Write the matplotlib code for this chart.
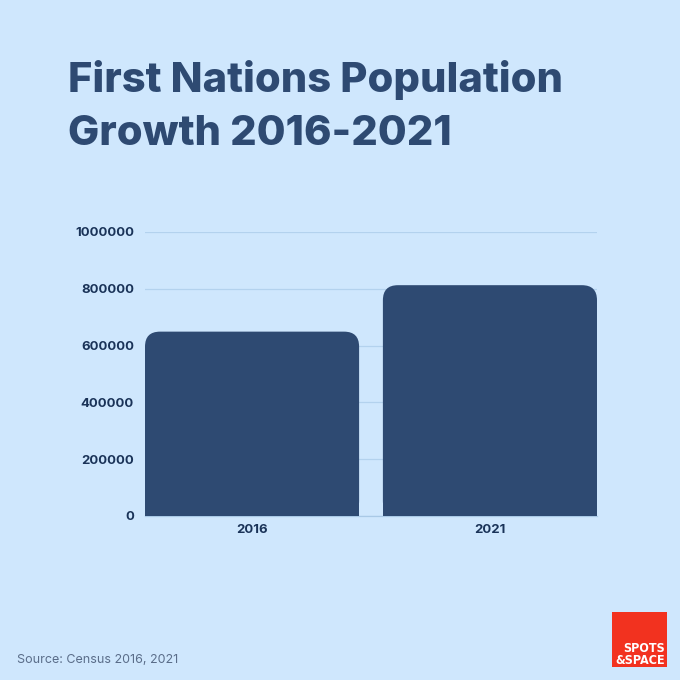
import numpy as np
import matplotlib.pyplot as plt
from matplotlib.patches import FancyBboxPatch, Rectangle

years = ['2016', '2021']
population = [649171, 812728]
yticks = [0, 200000, 400000, 600000, 800000, 1000000]

bg = '#cfe7fd'
navy = '#2e4a72'
label_col = '#1a3358'

fig = plt.figure(figsize=(6.8, 6.8), dpi=100, facecolor=bg)
ax = fig.add_axes([145/680, 1-516/680, 452/680, 284/680])
ax.set_facecolor(bg)

x = np.arange(len(years))
w = 0.9
ax.set_xlim(-w/2, 1 + w/2)
ax.set_ylim(0, 1000000)

# rounded top corners: fancy box + square patch for the bottom half
px_x = 1/238
px_y = 1000000/284
for xi, v in zip(x, population):
    box = FancyBboxPatch((xi - w/2, 0), w, v,
                         boxstyle='round,pad=0,rounding_size=%f' % (15*px_x),
                         mutation_aspect=px_y/px_x,
                         facecolor=navy, edgecolor='none', zorder=3)
    ax.add_patch(box)
ax.bar(x, [v/2 for v in population], width=w, color=navy, zorder=3)

ax.set_yticks(yticks)
ax.set_yticklabels([str(t) for t in yticks])
ax.set_xticks(x)
ax.set_xticklabels(years)
ax.grid(axis='y', color='#b3d2ee', linewidth=0.9, zorder=0)
ax.tick_params(length=0, pad=8, labelsize=9.5, labelcolor=label_col)
ax.tick_params(axis='x', pad=6)
for lab in ax.get_xticklabels() + ax.get_yticklabels():
    lab.set_fontweight('bold')
    lab.set_fontfamily('Inter')
for s in ['top', 'right', 'left']:
    ax.spines[s].set_visible(False)
ax.spines['bottom'].set_color('#a9c9e6')
ax.spines['bottom'].set_linewidth(0.9)

fig.text(68/680, 1-92/680, 'First Nations Population', fontsize=30, fontweight='heavy',
         family='Inter', color=navy, va='baseline')
fig.text(68/680, 1-145/680, 'Growth 2016-2021', fontsize=30, fontweight='heavy',
         family='Inter', color=navy, va='baseline')

fig.text(17/680, 1-660/680, 'Source: Census 2016, 2021', fontsize=9,
         family='Inter', color='#5a6d89', va='center')

# logo
fig.patches.append(Rectangle((612/680, 1-667/680), 55/680, 55/680,
                             transform=fig.transFigure, facecolor='#f2321f',
                             edgecolor='none'))
fig.text(665/680, 1-654/680, 'SPOTS\n&SPACE', fontsize=9, fontweight='bold',
         family='DejaVu Sans', fontstretch='condensed', color='white',
         ha='right', va='center', multialignment='right', linespacing=0.9)

fig.savefig('out.png', dpi=100, facecolor=bg)
